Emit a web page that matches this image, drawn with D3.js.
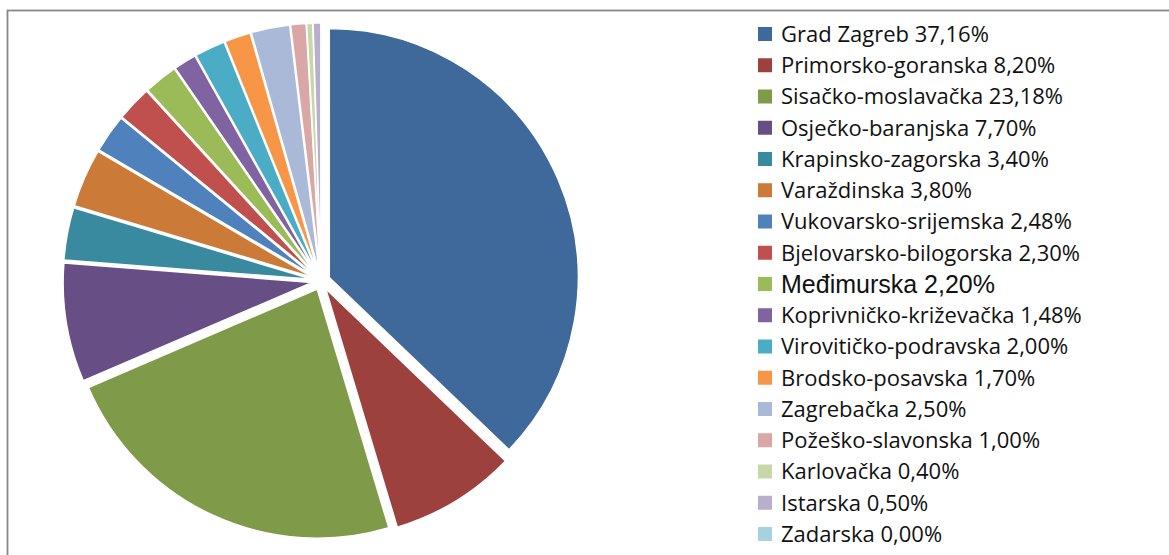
<!DOCTYPE html>
<html>
<head>
<meta charset="utf-8">
<script src="https://cdn.jsdelivr.net/npm/d3@7"></script>
<style>
  body { margin: 0; background: #fff; }
  svg { display: block; }
</style>
</head>
<body>
<div id="chart"></div>
<script>
// Share of total by county (percent)
const counties = [
  "Grad Zagreb", "Primorsko-goranska", "Sisačko-moslavačka", "Osječko-baranjska",
  "Krapinsko-zagorska", "Varaždinska", "Vukovarsko-srijemska", "Bjelovarsko-bilogorska",
  "Međimurska", "Koprivničko-križevačka", "Virovitičko-podravska", "Brodsko-posavska",
  "Zagrebačka", "Požeško-slavonska", "Karlovačka", "Istarska", "Zadarska"
];
const shares = [37.16, 8.20, 23.18, 7.70, 3.40, 3.80, 2.48, 2.30, 2.20, 1.48, 2.00, 1.70, 2.50, 1.00, 0.40, 0.50, 0.00];
const labels = ["37,16%", "8,20%", "23,18%", "7,70%", "3,40%", "3,80%", "2,48%", "2,30%",
  "2,20%", "1,48%", "2,00%", "1,70%", "2,50%", "1,00%", "0,40%", "0,50%", "0,00%"];
const colors = [
  "#3f699b", "#9d413e", "#7f9a48", "#674f86", "#3a8a9f", "#cb7b37",
  "#4f81bd", "#c0504d", "#9bbb59", "#8064a2", "#4bacc6", "#f79646",
  "#a9b9d7", "#d9a7a6", "#c7d7aa", "#b9aecb", "#a5d2de"
];

const width = 1169, height = 555;
const cx = 321, cy = 281, radius = 249, explode = 9;

const svg = d3.select("#chart")
  .append("svg")
  .attr("width", width)
  .attr("height", height);

// chart frame (right and bottom edges fall outside the picture)
svg.append("rect")
  .attr("x", 7.5).attr("y", 10.5)
  .attr("width", width + 20).attr("height", height + 20)
  .attr("fill", "none")
  .attr("stroke", "#878787")
  .attr("stroke-width", 1.8);

const data = counties.map((name, i) => ({ name, value: shares[i], label: labels[i], color: colors[i] }));

const pie = d3.pie().sort(null).value(d => d.value).startAngle(0).endAngle(2 * Math.PI);
const arc = d3.arc().innerRadius(0).outerRadius(radius);

const g = svg.append("g").attr("transform", `translate(${cx},${cy})`);

g.selectAll("path")
  .data(pie(data).filter(d => d.data.value > 0))
  .enter()
  .append("path")
  .attr("d", arc)
  .attr("fill", d => d.data.color)
  .attr("stroke", "#fff")
  .attr("stroke-width", 1.5)
  .attr("transform", d => {
    const a = (d.startAngle + d.endAngle) / 2;
    return `translate(${explode * Math.sin(a)},${-explode * Math.cos(a)})`;
  });

// Legend
const legend = svg.append("g");
const rowY = d3.scaleLinear().domain([0, counties.length - 1]).range([34, 534]);

const rows = legend.selectAll("g")
  .data(data)
  .enter()
  .append("g")
  .attr("transform", (d, i) => `translate(758,${rowY(i)})`);

rows.append("rect")
  .attr("x", 0).attr("y", -7)
  .attr("width", 14).attr("height", 14)
  .attr("fill", d => d.color);

rows.append("text")
  .attr("x", 23)
  .attr("y", 0)
  .attr("dy", "0.36em")
  .attr("fill", "#111")
  .style("font-family", d => d.name === "Međimurska" ? "'Liberation Sans', Arial, sans-serif" : "'Open Sans', sans-serif")
  .style("font-size", d => d.name === "Međimurska" ? "25px" : "22px")
  .text(d => `${d.name} ${d.label}`);
</script>
</body>
</html>
